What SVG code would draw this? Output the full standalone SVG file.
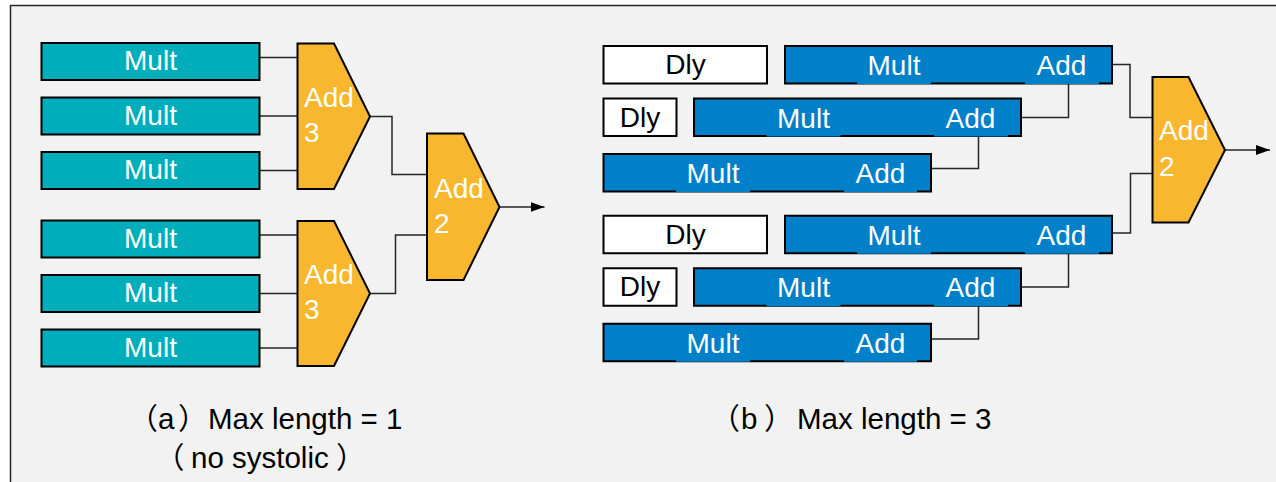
<svg xmlns="http://www.w3.org/2000/svg" width="1276" height="482" viewBox="0 0 1276 482">
  <defs>
    <marker id="arrow" viewBox="0 0 14 10" refX="14" refY="5" markerWidth="14" markerHeight="10" markerUnits="userSpaceOnUse" orient="auto">
      <path d="M0,0 L14,5 L0,10 Z" fill="#000"/>
    </marker>
    <style>
      .frame { fill: #f2f2f2; stroke: #262626; stroke-width: 1.5; }
      .mult { fill: #00aebb; stroke: #000; stroke-width: 2; }
      .pipe { fill: #0080c9; stroke: #000; stroke-width: 2; }
      .dly { fill: #fff; stroke: #000; stroke-width: 2; }
      .adder { fill: #f8b72e; stroke: #000; stroke-width: 2; stroke-linejoin: miter; }
      .cut { fill: #0080c9; }
      .lbl { font-family: "Liberation Sans", Arial, sans-serif; font-size: 28px; fill: #fff; }
      .dark { fill: #000; }
      .mid { text-anchor: middle; }
      .cap { font-family: "Liberation Sans", Arial, "Noto Sans CJK SC", sans-serif; font-size: 29.5px; fill: #000; }
      .wire { fill: none; stroke: #262626; stroke-width: 1.5; }
    </style>
  </defs>

  <rect x="0" y="0" width="1276" height="482" fill="#fff"/>
  <rect class="frame" x="10.5" y="5.5" width="1300" height="500"/>

  <!-- connectors -->
  <g id="connectors">
    <!-- (a) tree: multipliers into the 3-input adders -->
    <path class="wire" d="M260,57.5 H297.5 M260,116 H297.5 M260,170.5 H297.5"/>
    <path class="wire" d="M260,235 H297.5 M260,293.5 H297.5 M260,348 H297.5"/>
    <path class="wire" d="M370,116.5 H392 V174.5 H427"/>
    <path class="wire" d="M370,293.5 H395.5 V235 H427"/>
    <path class="wire" d="M499.5,207 H544.5" marker-end="url(#arrow)"/>
    <!-- (b) systolic chains -->
    <path class="wire" d="M1112,64.5 H1130 V117.5 H1152.5"/>
    <path class="wire" d="M1021,117.5 H1068.5 V83.5"/>
    <path class="wire" d="M931,168.5 H978.5 V136"/>
    <path class="wire" d="M1112,233 H1130.5 V173.5 H1152.5"/>
    <path class="wire" d="M1021,287 H1068.5 V253"/>
    <path class="wire" d="M931,339 H978.5 V306"/>
    <path class="wire" d="M1225,150 H1270" marker-end="url(#arrow)"/>
  </g>

  <!-- (a) multipliers -->
  <g id="mult-a1"><rect class="mult" x="41.5" y="43" width="218" height="37"/><text class="lbl mid" x="150.5" y="70">Mult</text></g>
  <g id="mult-a2"><rect class="mult" x="41.5" y="97.5" width="218" height="37"/><text class="lbl mid" x="150.5" y="124.5">Mult</text></g>
  <g id="mult-a3"><rect class="mult" x="41.5" y="152" width="218" height="37"/><text class="lbl mid" x="150.5" y="179">Mult</text></g>
  <g id="mult-a4"><rect class="mult" x="41.5" y="220.5" width="218" height="37"/><text class="lbl mid" x="150.5" y="247.5">Mult</text></g>
  <g id="mult-a5"><rect class="mult" x="41.5" y="275" width="218" height="37"/><text class="lbl mid" x="150.5" y="302">Mult</text></g>
  <g id="mult-a6"><rect class="mult" x="41.5" y="329.5" width="218" height="37"/><text class="lbl mid" x="150.5" y="356.5">Mult</text></g>

  <!-- (a) adders -->
  <g id="add3-top">
    <polygon class="adder" points="297.5,43.5 334,43.5 370,116.5 334,189 297.5,189"/>
    <text class="lbl" x="304" y="106.5">Add</text><text class="lbl" x="304" y="141.5">3</text>
  </g>
  <g id="add3-bottom">
    <polygon class="adder" points="297.5,221 334,221 370,293.5 334,366 297.5,366"/>
    <text class="lbl" x="304" y="284">Add</text><text class="lbl" x="304" y="319">3</text>
  </g>
  <g id="add2-a">
    <polygon class="adder" points="427,133.5 463.5,133.5 499.5,207 463.5,280 427,280"/>
    <text class="lbl" x="434" y="197.5">Add</text><text class="lbl" x="434" y="232.5">2</text>
  </g>

  <!-- (b) delay registers -->
  <g id="dly-1"><rect class="dly" x="603.5" y="46" width="163.5" height="37.5"/><text class="lbl dark mid" x="685.5" y="74">Dly</text></g>
  <g id="dly-2"><rect class="dly" x="603.5" y="98.5" width="73" height="37.5"/><text class="lbl dark mid" x="640" y="126.5">Dly</text></g>
  <g id="dly-3"><rect class="dly" x="603.5" y="215.75" width="163.5" height="37.5"/><text class="lbl dark mid" x="685.5" y="243.75">Dly</text></g>
  <g id="dly-4"><rect class="dly" x="603.5" y="268.25" width="73" height="37.5"/><text class="lbl dark mid" x="640" y="296.25">Dly</text></g>

  <!-- (b) multiply-add pipeline stages -->
  <g id="mac-1">
    <rect class="pipe" x="785" y="46" width="327" height="37.5"/>
    <rect class="cut" x="857" y="81.5" width="74" height="2.5"/><rect class="cut" x="1025" y="81.5" width="74" height="2.5"/>
    <text class="lbl mid" x="894" y="75">Mult</text><text class="lbl mid" x="1061.5" y="75">Add</text>
  </g>
  <g id="mac-2">
    <rect class="pipe" x="694" y="98.5" width="327" height="37.5"/>
    <rect class="cut" x="766.5" y="134" width="74" height="2.5"/><rect class="cut" x="934" y="134" width="74" height="2.5"/>
    <text class="lbl mid" x="803.5" y="127.5">Mult</text><text class="lbl mid" x="970.5" y="127.5">Add</text>
  </g>
  <g id="mac-3">
    <rect class="pipe" x="603.5" y="154" width="327.5" height="37.5"/>
    <rect class="cut" x="676" y="189.5" width="74" height="2.5"/><rect class="cut" x="844" y="189.5" width="73" height="2.5"/>
    <text class="lbl mid" x="713" y="183">Mult</text><text class="lbl mid" x="880.5" y="183">Add</text>
  </g>
  <g id="mac-4">
    <rect class="pipe" x="785" y="215.75" width="327" height="37.5"/>
    <rect class="cut" x="857" y="251.25" width="74" height="2.5"/><rect class="cut" x="1025" y="251.25" width="74" height="2.5"/>
    <text class="lbl mid" x="894" y="244.75">Mult</text><text class="lbl mid" x="1061.5" y="244.75">Add</text>
  </g>
  <g id="mac-5">
    <rect class="pipe" x="694" y="268.25" width="327" height="37.5"/>
    <rect class="cut" x="766.5" y="303.75" width="74" height="2.5"/><rect class="cut" x="934" y="303.75" width="74" height="2.5"/>
    <text class="lbl mid" x="803.5" y="297.25">Mult</text><text class="lbl mid" x="970.5" y="297.25">Add</text>
  </g>
  <g id="mac-6">
    <rect class="pipe" x="603.5" y="323.75" width="327.5" height="37.5"/>
    <rect class="cut" x="676" y="359.25" width="74" height="2.5"/><rect class="cut" x="844" y="359.25" width="73" height="2.5"/>
    <text class="lbl mid" x="713" y="352.75">Mult</text><text class="lbl mid" x="880.5" y="352.75">Add</text>
  </g>

  <!-- (b) final adder -->
  <g id="add2-b">
    <polygon class="adder" points="1152.5,77 1188.5,77 1225,150 1188.5,222.5 1152.5,222.5"/>
    <text class="lbl" x="1159" y="140">Add</text><text class="lbl" x="1159" y="175.5">2</text>
  </g>

  <!-- captions -->
  <g id="captions">
    <text class="cap" x="128.5" y="429">（<tspan x="158">a</tspan><tspan x="178">）</tspan><tspan x="208">Max length = 1</tspan></text>
    <text class="cap" x="155" y="468">（<tspan x="191">no systolic</tspan><tspan x="336">）</tspan></text>
    <text class="cap" x="710.5" y="429">（<tspan x="741">b</tspan><tspan x="764">）</tspan><tspan x="797">Max length = 3</tspan></text>
  </g>
</svg>
